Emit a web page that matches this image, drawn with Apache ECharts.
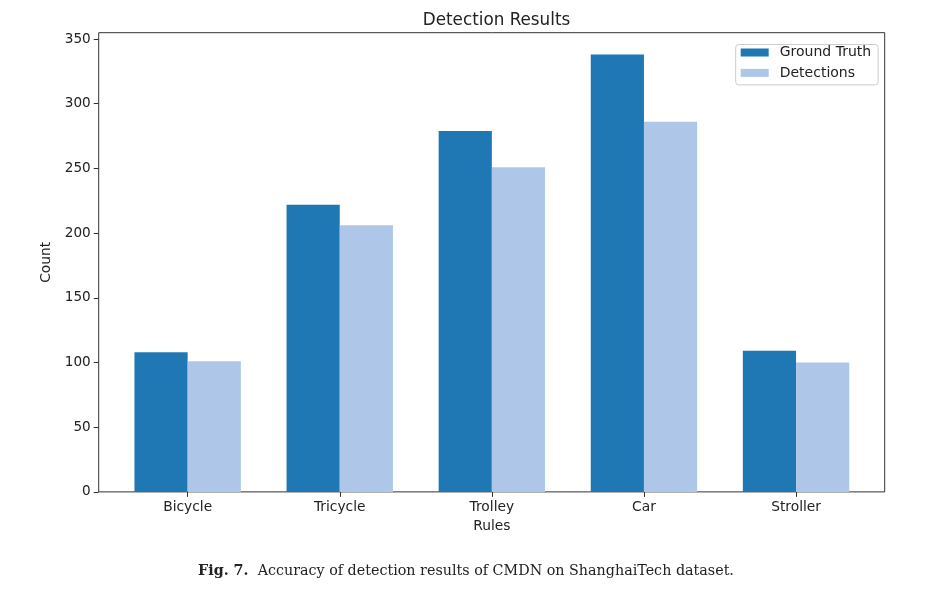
<!DOCTYPE html>
<html>
<head>
<meta charset="utf-8">
<script src="https://cdn.jsdelivr.net/npm/echarts@6/dist/echarts.min.js"></script>
<style>
html,body{margin:0;padding:0;background:#fff;}
#chart{width:947px;height:595px;}
</style>
</head>
<body>
<div id="chart"></div>
<script>
const categories = ['Bicycle', 'Tricycle', 'Trolley', 'Car', 'Stroller'];
const groundTruth = [108, 222, 279, 338, 109];
const detections = [101, 206, 251, 286, 100];
const yTicks = [0, 50, 100, 150, 200, 250, 300, 350];
const yMax = 354.9;

const FONT = 'DejaVu Sans';
const chart = echarts.init(document.getElementById('chart'), null, {renderer: 'canvas'});

const option = {
  animation: false,
  backgroundColor: '#ffffff',
  textStyle: {fontFamily: FONT},
  title: [
    {
      text: 'Detection Results',
      left: 491.5, top: 7, textAlign: 'center',
      textStyle: {fontFamily: FONT, fontSize: 16.8, fontWeight: 'normal', color: '#222'}
    },
    {
      text: '{b|Fig. 7.}  Accuracy of detection results of CMDN on ShanghaiTech dataset.',
      left: 461, top: 559, textAlign: 'center',
      textStyle: {
        fontFamily: 'DejaVu Serif', fontSize: 14.3, fontWeight: 'normal', color: '#222',
        rich: {b: {fontFamily: 'DejaVu Serif', fontSize: 14.3, fontWeight: 'bold', color: '#222'}}
      }
    }
  ],
  legend: {
    orient: 'vertical',
    left: 735.7, top: 44.5,
    data: ['Ground Truth', 'Detections'],
    itemWidth: 28, itemHeight: 8, itemGap: 6.4,
    padding: [1, 7, 5, 5],
    borderColor: '#cccccc', borderWidth: 1, borderRadius: 3,
    backgroundColor: '#ffffff',
    icon: 'rect',
    textStyle: {fontFamily: FONT, fontSize: 14, color: '#222', lineHeight: 10, padding: [0, 0, 0, 6]}
  },
  grid: [
    {left: 98.7, top: 32.7, width: 786, height: 459.2, show: true, borderColor: '#333', borderWidth: 1, backgroundColor: 'transparent', containLabel: false},
    {left: 111.6, top: 32.7, width: 760.5, height: 459.2, show: false, containLabel: false}
  ],
  xAxis: [
    {type: 'value', gridIndex: 0, show: false, min: 0, max: 1},
    {
      type: 'category', gridIndex: 1, data: categories,
      axisLine: {show: false},
      axisTick: {show: true, alignWithLabel: true, length: 5, lineStyle: {color: '#333'}},
      axisLabel: {fontFamily: FONT, fontSize: 13.8, color: '#222', margin: 9},
      name: 'Rules', nameLocation: 'middle', nameGap: 27,
      nameTextStyle: {fontFamily: FONT, fontSize: 13.8, color: '#222'}
    }
  ],
  yAxis: [
    {
      type: 'value', gridIndex: 0, min: 0, max: yMax,
      axisLine: {show: false},
      splitLine: {show: false},
      axisTick: {show: true, length: 5, lineStyle: {color: '#333'}, customValues: yTicks},
      axisLabel: {fontFamily: FONT, fontSize: 13.6, color: '#222', margin: 8, customValues: yTicks},
      name: 'Count', nameLocation: 'middle', nameGap: 39, nameRotate: 90,
      nameTextStyle: {fontFamily: FONT, fontSize: 13.8, color: '#222'}
    },
    {type: 'value', gridIndex: 1, min: 0, max: yMax, show: false, splitLine: {show: false}}
  ],
  series: [
    {
      name: 'Ground Truth', type: 'bar', xAxisIndex: 1, yAxisIndex: 1,
      data: groundTruth, barWidth: 53.2, barGap: '0%',
      itemStyle: {color: '#1f77b4'}
    },
    {
      name: 'Detections', type: 'bar', xAxisIndex: 1, yAxisIndex: 1,
      data: detections, barWidth: 53.2, barGap: '0%',
      itemStyle: {color: '#aec7e8'}
    }
  ]
};
chart.setOption(option);
</script>
</body>
</html>
